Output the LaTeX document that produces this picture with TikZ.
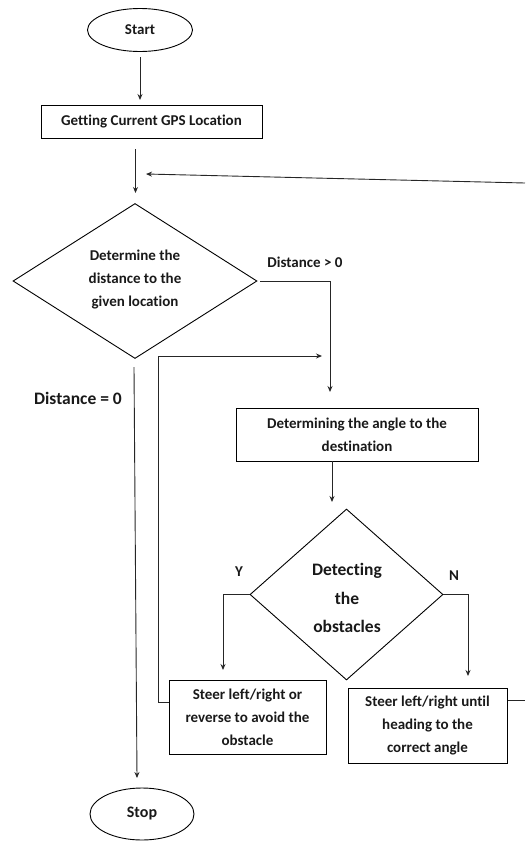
\documentclass[tikz,border=0pt]{standalone}
\usepackage{fontspec}
\setmainfont[Ligatures=NoCommon]{Carlito}
\usetikzlibrary{shapes.geometric,arrows.meta}
\begin{document}
\begin{tikzpicture}[x=1pt,y=-1pt,
  every node/.style={font=\bfseries\fontsize{15}{23}\selectfont,text=black!90},
  box/.style={draw=black,line width=1pt,rectangle,inner sep=0pt,align=center},
  term/.style={draw=black,line width=0.9pt,ellipse,inner sep=0pt},
  dia/.style={draw=black,line width=0.9pt,diamond,inner sep=0pt},
  txt/.style={align=center,inner sep=0pt},
  lbl/.style={inner sep=0pt},
  ln/.style={draw=black!85,line width=0.9pt},
  arr/.style={ln,-{Stealth[length=6pt,width=5pt]}}]
\useasboundingbox (0,0) rectangle (525,841);
% nodes
\node[term,minimum width=105pt,minimum height=43pt] (start) at (140,30) {Start};
\node[box,minimum width=221pt,minimum height=33pt] (gps) at (151.5,121.5) {Getting Current GPS Location};
\node[dia,minimum width=244pt,minimum height=155pt] (d1) at (135,281) {};
\node[txt] (d1t) at (135,280) {Determine the\\distance to the\\given location};
\node[box,minimum width=242pt,minimum height=53pt] (b2) at (357,434.5) {Determining the angle to the\\destination};
\node[dia,minimum width=193pt,minimum height=171pt] (d2) at (346.5,594.5) {};
\node[txt,font=\bfseries\fontsize{17.5}{28.5}\selectfont] (d2t) at (347,598) {Detecting\\the\\obstacles};
\node[box,minimum width=157pt,minimum height=74pt] (yb) at (247.5,717) {Steer left/right or\\reverse to avoid the\\obstacle};
\node[box,minimum width=159pt,minimum height=75pt] (nb) at (427.5,725.5) {Steer left/right until\\heading to the\\correct angle};
\node[term,minimum width=104pt,minimum height=52pt] (stop) at (142,814) {\fontsize{16}{20}\selectfont Stop};
% labels
\node[lbl] (l1) at (305,262) {Distance {>} 0};
\node[lbl,font=\bfseries\fontsize{17.5}{20}\selectfont] (l2) at (78,398) {Distance = 0};
\node[lbl] (ly) at (239,572) {Y};
\node[lbl] (lnn) at (454,576) {N};
% coordinates
\coordinate (a1s) at (140,57);
\coordinate (a1e) at (140,100);
\coordinate (a2s) at (135.5,149);
\coordinate (a2e) at (135.5,193);
\coordinate (fb) at (525,183);
\coordinate (fbe) at (146,174);
\coordinate (c1) at (330,392);
\coordinate (lpb) at (158,702);
\coordinate (lpe) at (322,356);
\coordinate (s0) at (134,367);
\coordinate (s1) at (137,778);
\coordinate (b2s) at (332,461);
\coordinate (b2e) at (332,502);
\coordinate (yc) at (223,670);
\coordinate (nc) at (468,676);
\coordinate (nout) at (525,700);
% connectors
\draw[arr] (a1s) -- (a1e);
\draw[arr] (a2s) -- (a2e);
\draw[arr] (fb) -- (fbe);
\draw[arr] ([xshift=3pt]d1.east) -| (c1);
\draw[arr] ([yshift=15pt]yb.west) -- (lpb) |- (lpe);
\draw[arr] (s0) -- (s1);
\draw[arr] (b2s) -- (b2e);
\draw[arr] (d2.west) -| (yc);
\draw[arr] (d2.east) -| (nc);
\draw[ln] ([yshift=25.5pt]nb.east) -- (nout);
\end{tikzpicture}
\end{document}
